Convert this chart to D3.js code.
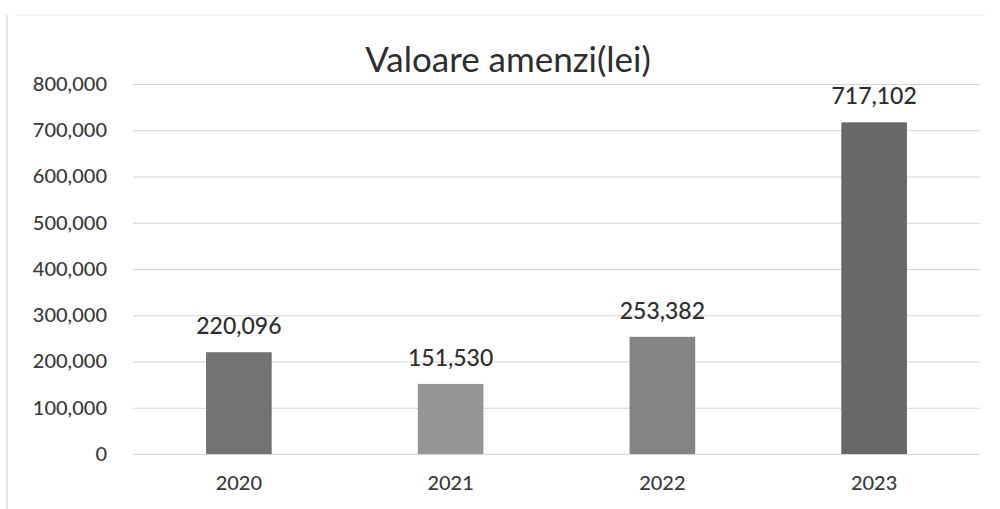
<!DOCTYPE html>
<html><head><meta charset="utf-8">
<script src="https://cdn.jsdelivr.net/npm/d3@7"></script>
<style>body{margin:0;background:#fff}svg{display:block}</style>
</head><body>
<script>
const categories = ["2020","2021","2022","2023"];
const values = [220096, 151530, 253382, 717102];
const barColors = ["#737373","#959595","#848484","#686868"];
const yTicks = [0,100000,200000,300000,400000,500000,600000,700000,800000];
const title = "Valoare amenzi(lei)";

const W=1000,H=509;
const m={left:133,right:20,top:84,bottom:55};
const svg=d3.select("body").append("svg").attr("width",W).attr("height",H);
const font="Lato, 'Open Sans', sans-serif";

svg.append("line").attr("x1",7).attr("x2",7).attr("y1",15).attr("y2",509)
  .attr("stroke","#dcdcdc").attr("stroke-width",1.5);
svg.append("line").attr("x1",15).attr("x2",985).attr("y1",15).attr("y2",15)
  .attr("stroke","#ececec").attr("stroke-width",1.5);

const x=d3.scaleBand().domain(categories).range([m.left,W-m.right]).paddingInner(0.69).paddingOuter(0.345);
const y=d3.scaleLinear().domain([0,800000]).range([454,84]);

const fmt=d3.format(",");
const yAxis=d3.axisLeft(y).tickValues(yTicks).tickFormat(fmt).tickSize(-(W-m.right-m.left)).tickPadding(26);
const gy=svg.append("g").attr("transform",`translate(${m.left},0)`).call(yAxis);
gy.select(".domain").remove();
gy.selectAll(".tick line").attr("stroke","#d4d4d4").attr("stroke-width",1.2);
gy.selectAll(".tick text").attr("fill","#3a3a3a").style("font-family",font).style("font-size","20px").style("font-weight","500");

const xAxis=d3.axisBottom(x).tickSize(0).tickPadding(22);
const gx=svg.append("g").attr("transform",`translate(0,454)`).call(xAxis);
gx.select(".domain").remove();
gx.selectAll(".tick text").attr("fill","#3a3a3a").style("font-family",font).style("font-size","20px").style("font-weight","500");

const data=categories.map((c,i)=>({c,v:values[i],col:barColors[i]}));
svg.selectAll("rect.bar").data(data).join("rect").attr("class","bar")
  .attr("x",d=>x(d.c)).attr("width",x.bandwidth())
  .attr("y",d=>y(d.v)).attr("height",d=>y(0)-y(d.v)).attr("fill",d=>d.col);

svg.selectAll("text.lbl").data(data).join("text").attr("class","lbl")
  .attr("x",d=>x(d.c)+x.bandwidth()/2).attr("y",d=>y(d.v)-18)
  .attr("text-anchor","middle").attr("fill","#2e2e2e")
  .style("font-family",font).style("font-size","23px").style("font-weight","500").text(d=>fmt(d.v));

svg.append("text").attr("x",508).attr("y",72).attr("text-anchor","middle")
  .attr("fill","#2e2e2e").style("font-family",font).style("font-size","35px").text(title);
</script>
</body></html>
